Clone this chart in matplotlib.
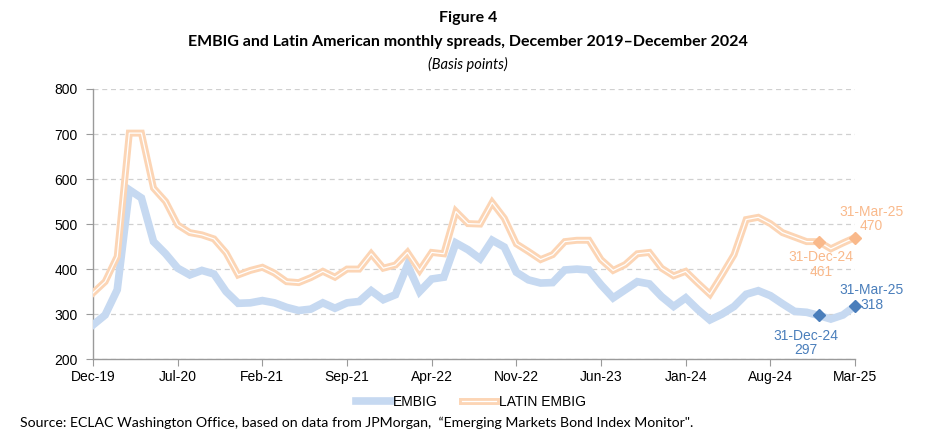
import matplotlib
matplotlib.use("Agg")
import matplotlib.pyplot as plt
import matplotlib.patheffects as pe
import pandas as pd

# ----------------------- Data -----------------------
months = pd.date_range("2019-12-01", periods=64, freq="MS")
month_labels = [d.strftime("%b-%y") for d in months]

embig = [276, 298, 354, 576, 558, 461, 434, 402, 387, 397, 389, 350, 324, 325, 330, 325,
         315, 308, 311, 325, 313, 325, 328, 352, 332, 343, 409, 350, 378, 382, 458, 443,
         423, 464, 449, 393, 376, 369, 370, 398, 400, 398, 365, 336, 354, 372, 367, 339,
         317, 336, 310, 287, 300, 317, 344, 352, 341, 323, 306, 304, 297, 289, 298, 318]
latin_embig = [347, 372, 428, 702, 702, 580, 550, 498, 481, 476, 467, 436, 387, 397, 404, 391,
               372, 370, 381, 395, 382, 400, 400, 434, 402, 409, 437, 397, 437, 434, 528, 501,
               500, 548, 513, 456, 439, 421, 432, 461, 464, 464, 421, 397, 410, 434, 437, 402,
               385, 395, 369, 344, 387, 432, 510, 515, 501, 481, 471, 461, 461, 445, 458, 470]

# highlighted points: (index, label)
marks = [(60, "31-Dec-24"), (63, "31-Mar-25")]

BLUE_LINE = "#c6d9f1"
BLUE_DARK = "#4a7ebb"
ORANGE_LINE = "#fcd5b5"
ORANGE_DARK = "#f9b98b"

plt.rcParams["font.family"] = ["Liberation Sans", "DejaVu Sans"]

fig = plt.figure(figsize=(9.36, 4.45), dpi=100)
ax = fig.add_axes([0.0994, 0.193, 0.8141, 0.607])

x = list(range(len(months)))
ax.plot(x, embig, color=BLUE_LINE, lw=5.5, solid_joinstyle="miter", label="EMBIG", zorder=3)
ax.plot(x, latin_embig, color="white", lw=0.9, solid_joinstyle="miter", label="LATIN EMBIG", zorder=3,
        path_effects=[pe.Stroke(linewidth=5, foreground=ORANGE_LINE), pe.Normal()])

# markers + annotations
for i, lab in marks:
    ax.plot(i, embig[i], marker="D", ms=6.5, color=BLUE_DARK, zorder=5, clip_on=False)
    ax.plot(i, latin_embig[i], marker="D", ms=6.5, color=ORANGE_DARK, zorder=5, clip_on=False)

# offsets in points from each marker
offsets = {("embig", 60): (-9, -20), ("latin", 60): (1.5, -16.5),
           ("embig", 63): (12, 6), ("latin", 63): (12, 13.5)}
for i, lab in marks:
    for key, vals, col in (("embig", embig, BLUE_DARK), ("latin", latin_embig, ORANGE_DARK)):
        ax.annotate(f"{lab}\n{vals[i]}", (i, vals[i]), xytext=offsets[(key, i)],
                    textcoords="offset points", ha="center", va="center", color=col,
                    fontsize=10, linespacing=1.05, annotation_clip=False)

# ----------------------- Axes styling -----------------------
ax.set_xlim(0, len(months) - 1)
ax.set_ylim(200, 800)
ax.set_yticks(range(200, 801, 100))
ax.set_xticks(x[::7])
ax.set_xticklabels(month_labels[::7])
ax.grid(axis="y", color="#d0d0d0", ls=(0, (4, 3)), lw=0.9)
ax.set_axisbelow(True)
for s in ("top", "right"):
    ax.spines[s].set_visible(False)
for s in ("left", "bottom"):
    ax.spines[s].set_color("#9a9a9a")
    ax.spines[s].set_linewidth(1)
ax.tick_params(axis="both", colors="#9a9a9a", labelcolor="black", labelsize=10, length=5)
ax.tick_params(axis="y", pad=6)
ax.tick_params(axis="x", pad=3)

ax.legend(loc="upper center", bbox_to_anchor=(0.496, -0.085), ncol=2, frameon=False,
          fontsize=10, handlelength=2.5, columnspacing=1.7, handletextpad=0.2)

# ----------------------- Titles -----------------------
fig.text(0.5, 1 - 18 / 445, "Figure 4", ha="center", va="center", fontsize=11.5,
         fontweight="bold", family="Lato")
fig.text(0.5, 1 - 42 / 445, "EMBIG and Latin American monthly spreads, December 2019\u2013December 2024",
         ha="center", va="center", fontsize=11.5, fontweight="bold", family="Lato")
fig.text(0.5, 1 - 64 / 445, "(Basis points)", ha="center", va="center", fontsize=10.5,
         style="italic", family="Lato")
fig.text(20 / 936, 1 - 423 / 445,
         "Source: ECLAC Washington Office, based on data from JPMorgan,  \u201cEmerging Markets Bond Index Monitor\".",
         ha="left", va="center", fontsize=10.2, family="Lato")

fig.savefig("out.png", dpi=100)
